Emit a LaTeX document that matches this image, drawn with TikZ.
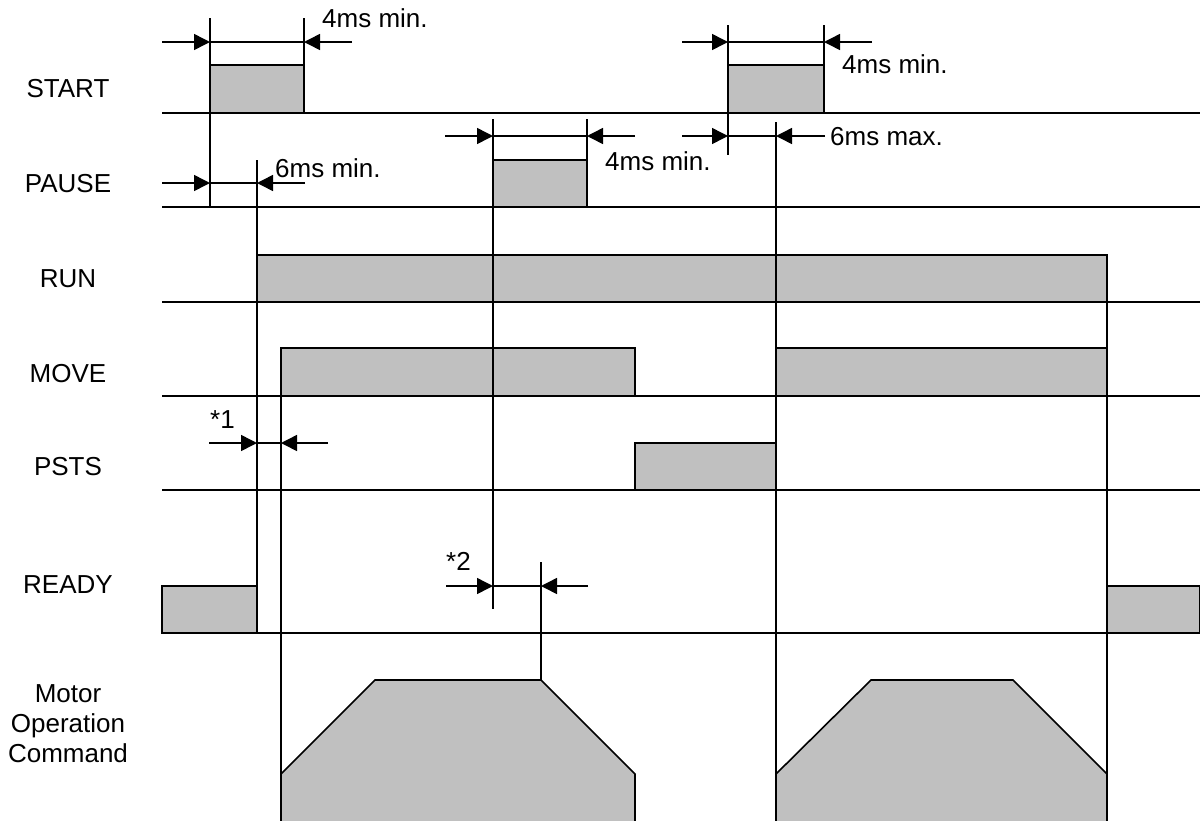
\documentclass[tikz,border=0pt]{standalone}
\usepackage{fontspec}
\setmainfont{Liberation Sans}
\usetikzlibrary{arrows.meta}
\definecolor{sig}{HTML}{C0C0C0}
\tikzset{
 pulse/.style={fill=sig, draw=black, line width=1.6pt},
 wire/.style={draw=black, line width=1.6pt},
 baseline/.style={draw=black, line width=1.9pt},
 dim/.style={draw=black, line width=1.5pt, -{Triangle[length=16pt,width=16pt]}},
 lbl/.style={font=\fontsize{26}{30}\selectfont, inner sep=0pt, anchor=base},
 note/.style={font=\fontsize{26}{30}\selectfont, inner sep=0pt, anchor=base west},
}
\begin{document}
\begin{tikzpicture}[x=1pt,y=-1pt]
\useasboundingbox (0,0) rectangle (1200,820);
% signal pulses
\filldraw[pulse] (210,113) rectangle (304,65);   % START 1
\filldraw[pulse] (728,113) rectangle (824,65);   % START 2
\filldraw[pulse] (493,207) rectangle (587,160);  % PAUSE
\filldraw[pulse] (257,302) rectangle (1107,255); % RUN
\filldraw[pulse] (281,396) rectangle (635,348);  % MOVE 1
\filldraw[pulse] (776,396) rectangle (1107,348); % MOVE 2
\filldraw[pulse] (635,490) rectangle (776,443);  % PSTS
\filldraw[pulse] (162,633) rectangle (257,586);  % READY 1
\filldraw[pulse] (1107,633) rectangle (1200,586);% READY 2
% motor operation profiles
\filldraw[pulse] (281,822) -- (281,774) -- (375,680) -- (541,680) -- (635,774) -- (635,822);
\filldraw[pulse] (776,822) -- (776,774) -- (871,680) -- (1013,680) -- (1107,774) -- (1107,822);
% base lines
\foreach \y in {113,207,302,396,490,633} \draw[baseline] (162,\y) -- (1200,\y);
% extension lines
\draw[wire] (210,18) -- (210,207);
\draw[wire] (304,18) -- (304,113);
\draw[wire] (257,160) -- (257,633);
\draw[wire] (281,348) -- (281,822);
\draw[wire] (493,119) -- (493,609);
\draw[wire] (587,119) -- (587,207);
\draw[wire] (541,562) -- (541,680);
\draw[wire] (728,25) -- (728,155);
\draw[wire] (824,25) -- (824,113);
\draw[wire] (776,122) -- (776,822);
\draw[wire] (1107,255) -- (1107,822);
% dimension arrows
\coordinate (a1) at (162,42); \coordinate (a2) at (210,42); \coordinate (a3) at (304,42); \coordinate (a4) at (352,42);
\draw[dim] (a1) -- (a2); \draw[wire] (a2) -- (a3); \draw[dim] (a4) -- (a3);
\coordinate (b1) at (162,183); \coordinate (b2) at (210,183); \coordinate (b3) at (257,183); \coordinate (b4) at (305,183);
\draw[dim] (b1) -- (b2); \draw[wire] (b2) -- (b3); \draw[dim] (b4) -- (b3);
\coordinate (c1) at (445,136); \coordinate (c2) at (493,136); \coordinate (c3) at (587,136); \coordinate (c4) at (635,136);
\draw[dim] (c1) -- (c2); \draw[wire] (c2) -- (c3); \draw[dim] (c4) -- (c3);
\coordinate (d1) at (682,42); \coordinate (d2) at (728,42); \coordinate (d3) at (824,42); \coordinate (d4) at (872,42);
\draw[dim] (d1) -- (d2); \draw[wire] (d2) -- (d3); \draw[dim] (d4) -- (d3);
\coordinate (e1) at (682,136); \coordinate (e2) at (728,136); \coordinate (e3) at (776,136); \coordinate (e4) at (825,136);
\draw[dim] (e1) -- (e2); \draw[wire] (e2) -- (e3); \draw[dim] (e4) -- (e3);
\coordinate (f1) at (209,443); \coordinate (f2) at (257,443); \coordinate (f3) at (281,443); \coordinate (f4) at (328,443);
\draw[dim] (f1) -- (f2); \draw[wire] (f2) -- (f3); \draw[dim] (f4) -- (f3);
\coordinate (g1) at (446,586); \coordinate (g2) at (493,586); \coordinate (g3) at (541,586); \coordinate (g4) at (588,586);
\draw[dim] (g1) -- (g2); \draw[wire] (g2) -- (g3); \draw[dim] (g4) -- (g3);
% annotations
\node[note] (n1) at (322,27) {4ms min.};
\node[note] (n2) at (275,177) {6ms min.};
\node[note] (n3) at (605,170) {4ms min.};
\node[note] (n4) at (842,73) {4ms min.};
\node[note] (n5) at (830,145) {6ms max.};
\node[note] (n6) at (210,428) {*1};
\node[note] (n7) at (446,570) {*2};
% signal labels
\node[lbl] (lstart) at (68,97) {START};
\node[lbl] (lpause) at (68,192) {PAUSE};
\node[lbl] (lrun) at (68,287) {RUN};
\node[lbl] (lmove) at (68,382) {MOVE};
\node[lbl] (lpsts) at (68,475) {PSTS};
\node[lbl] (lready) at (68,593) {READY};
\node[lbl] (lmotor) at (68,702) {Motor};
\node[lbl] (loper) at (68,732) {Operation};
\node[lbl] (lcmd) at (68,762) {Command};
\end{tikzpicture}
\end{document}
